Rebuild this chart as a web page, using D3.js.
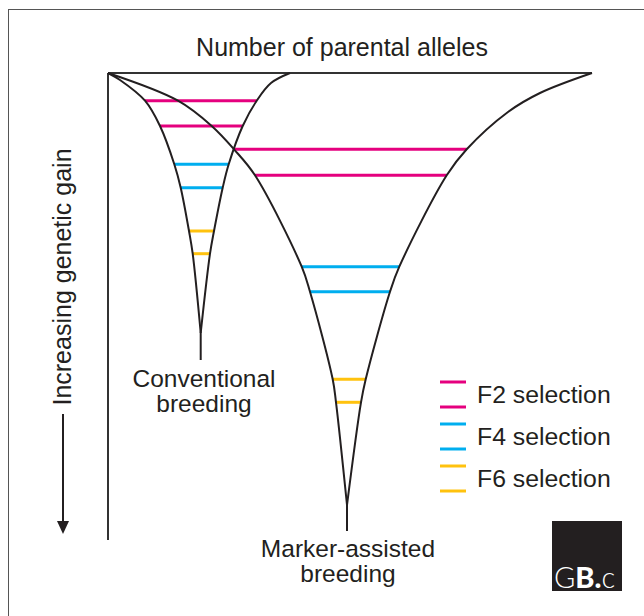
<!DOCTYPE html>
<html>
<head>
<meta charset="utf-8">
<script src="https://cdn.jsdelivr.net/npm/d3@7"></script>
<style>
  body { margin: 0; background: #fff; }
  text { font-family: "Liberation Sans", Arial, sans-serif; fill: #231f20; }
</style>
</head>
<body>
<svg id="chart" width="644" height="616"></svg>
<script>
// axis titles
let titleX = "Number of parental alleles";
let titleY = "Increasing genetic gain";

// curve outlines, [alleles, gain]
let convLeft = [[0, 0], [12, 7], [37, 27.7], [52, 53], [66.3, 91.3], [72.7, 114.7], [81, 158], [84.7, 180.7], [92.7, 260]];
let convRight = [[182, 0], [163, 10], [148.7, 27.7], [134.7, 53], [120.7, 91.3], [114.7, 114.7], [106, 158], [102, 180.7], [92.7, 260]];
let convStem = [[92.7, 260], [92.7, 287]];

let masLeft = [[0, 0], [70, 27.7], [103.7, 53], [126, 76.3], [147, 102.3], [193.7, 193.7], [202, 218.7], [224.7, 306.3], [228, 329.3], [239, 432]];
let masRight = [[484, 0], [432, 20], [400, 39], [358.7, 76.3], [338.7, 102.3], [291.3, 193.7], [282, 218.7], [257.7, 306.3], [253, 329.3], [239, 432]];
let masStem = [[239, 432], [239, 458]];

// selection lines: generation, gain, allele range
let generations = ["F2", "F4", "F6"];
let genColors = ["#e5007e", "#00aeef", "#ffc20e"];
let convSel = [
    ["F2", 27.7, 37, 148.7], ["F2", 53, 52, 134.7],
    ["F4", 91.3, 66.3, 120.7], ["F4", 114.7, 72.7, 114.7],
    ["F6", 158, 81, 106], ["F6", 180.7, 84.7, 102]
];
let masSel = [
    ["F2", 76.3, 127, 358.7], ["F2", 102.3, 147, 338.7],
    ["F4", 193.7, 193.7, 291.3], ["F4", 218.7, 202, 282],
    ["F6", 306.3, 224.7, 257.7], ["F6", 329.3, 228, 253]
];
let legendLabels = ["F2 selection", "F4 selection", "F6 selection"];

let svg = d3.select("#chart");

let x = d3.scaleLinear().domain([0, 484]).range([108, 592]);
let y = d3.scaleLinear().domain([0, 467]).range([73, 540]);
let color = d3.scaleOrdinal().domain(generations).range(genColors);

// outer frame
svg.append("rect")
    .attr("x", 8.5).attr("y", 9.5)
    .attr("width", 660).attr("height", 640)
    .attr("fill", "none").attr("stroke", "#555").attr("stroke-width", 1);

// axes (plain lines, no ticks)
svg.append("line")
    .attr("x1", x(0)).attr("y1", y(0)).attr("x2", x(484)).attr("y2", y(0))
    .attr("stroke", "#333").attr("stroke-width", 2);
svg.append("line")
    .attr("x1", x(0)).attr("y1", y(0)).attr("x2", x(0)).attr("y2", y(467))
    .attr("stroke", "#333").attr("stroke-width", 2);

svg.append("text")
    .attr("x", 342).attr("y", 56)
    .attr("text-anchor", "middle")
    .style("font-size", "25px")
    .text(titleX);

// y label with arrow
svg.append("text")
    .attr("transform", "translate(71,277) rotate(-90)")
    .attr("text-anchor", "middle")
    .style("font-size", "25px")
    .text(titleY);
svg.append("line")
    .attr("x1", 63).attr("y1", 414).attr("x2", 63).attr("y2", 524)
    .attr("stroke", "#231f20").attr("stroke-width", 2);
svg.append("path")
    .attr("d", "M57,521 L69,521 L63,534 Z")
    .attr("fill", "#231f20");

// selection lines
let selG = svg.append("g");
selG.selectAll(".conv")
    .data(convSel.concat(masSel))
    .enter()
    .append("line")
    .attr("x1", d => x(d[2]))
    .attr("x2", d => x(d[3]))
    .attr("y1", d => y(d[1]))
    .attr("y2", d => y(d[1]))
    .attr("stroke", d => color(d[0]))
    .attr("stroke-width", 3);

// curves
let curveGen = d3.line()
    .x(d => x(d[0]))
    .y(d => y(d[1]))
    .curve(d3.curveCatmullRom.alpha(0.5));

let curves = [convLeft, convRight, convStem, masLeft, masRight, masStem];
svg.append("g").selectAll("path")
    .data(curves)
    .enter()
    .append("path")
    .attr("d", curveGen)
    .attr("fill", "none")
    .attr("stroke", "#231f20")
    .attr("stroke-width", 2);

// curve labels
svg.append("text")
    .attr("x", 204).attr("y", 387)
    .attr("text-anchor", "middle")
    .style("font-size", "24.5px")
    .selectAll("tspan")
    .data(["Conventional", "breeding"])
    .enter().append("tspan")
    .attr("x", 204)
    .attr("dy", (d, i) => i == 0 ? 0 : 25)
    .text(d => d);

svg.append("text")
    .attr("x", 348).attr("y", 557)
    .attr("text-anchor", "middle")
    .style("font-size", "24.5px")
    .selectAll("tspan")
    .data(["Marker-assisted", "breeding"])
    .enter().append("tspan")
    .attr("x", 348)
    .attr("dy", (d, i) => i == 0 ? 0 : 25)
    .text(d => d);

// legend
let legend = svg.append("g").attr("transform", "translate(440,382)");
let items = legend.selectAll("g")
    .data(generations)
    .enter()
    .append("g")
    .attr("transform", (d, i) => "translate(0," + (i * 42) + ")");
items.append("line")
    .attr("x1", 0).attr("x2", 26).attr("y1", 0).attr("y2", 0)
    .attr("stroke", d => color(d)).attr("stroke-width", 3);
items.append("line")
    .attr("x1", 0).attr("x2", 26).attr("y1", 25).attr("y2", 25)
    .attr("stroke", d => color(d)).attr("stroke-width", 3);
items.append("text")
    .attr("x", 37).attr("y", 21)
    .style("font-size", "24.8px")
    .text((d, i) => legendLabels[i]);

// logo box
svg.append("rect")
    .attr("x", 552).attr("y", 521)
    .attr("width", 70).attr("height", 70)
    .attr("fill", "#231f20");
let logo = svg.append("text")
    .attr("x", 554).attr("y", 588)
    .style("font-family", "Lato, sans-serif")
    .style("font-size", "29px")
    .style("fill", "#fff");
logo.append("tspan").style("font-weight", 300).style("fill", "#fff").text("G");
logo.append("tspan").style("font-weight", 900).style("fill", "#fff").text("B.");
logo.append("tspan").style("font-weight", 300).style("fill", "#fff").text("c");
</script>
</body>
</html>
